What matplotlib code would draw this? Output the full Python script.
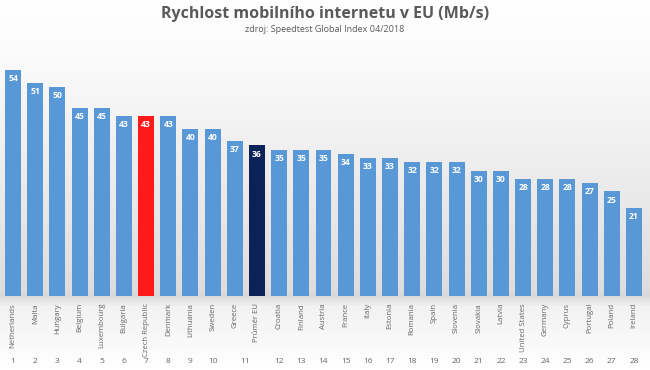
import numpy as np
import matplotlib
matplotlib.use("Agg")
import matplotlib.pyplot as plt
from matplotlib.colors import LinearSegmentedColormap

countries = ["Netherlands", "Malta", "Hungary", "Belgium", "Luxembourg", "Bulgaria",
             "Czech Republic", "Denmark", "Lithuania", "Sweden", "Greece", "Průměr EU",
             "Croatia", "Finland", "Austria", "France", "Italy", "Estonia", "Romania",
             "Spain", "Slovenia", "Slovakia", "Latvia", "United States", "Germany",
             "Cyprus", "Portugal", "Poland", "Ireland"]
speeds = [54, 51, 50, 45, 45, 43, 43, 43, 40, 40, 37, 36, 35, 35, 35, 34, 33, 33, 32,
          32, 32, 30, 30, 28, 28, 28, 27, 25, 21]
ranks = ["1", "2", "3", "4", "5", "6", "7", "8", "9", "10", "11", "", "12", "13", "14",
         "15", "16", "17", "18", "19", "20", "21", "22", "23", "24", "25", "26", "27", "28"]

plt.rcParams['font.family'] = ['Open Sans', 'DejaVu Sans']

fig = plt.figure(figsize=(6.5, 3.7), dpi=100)

# background gradient
bg = fig.add_axes([0, 0, 1, 1], zorder=-10)
bg.axis("off")
cmap = LinearSegmentedColormap.from_list(
    "bg", [(0, "#ffffff"), (0.15, "#fbfbfb"), (0.78, "#dedede"), (0.80, "#d8d8d8"),
           (0.83, "#f2f2f2"), (1.0, "#ffffff")])
grad = np.linspace(0, 1, 370).reshape(-1, 1)
bg.imshow(grad, aspect="auto", cmap=cmap, extent=[0, 1, 0, 1], origin="upper")
bg.set_xlim(0, 1)
bg.set_ylim(0, 1)

ax = fig.add_axes([2 / 650, 1 - 296 / 370, 643 / 650, 251 / 370])
ax.patch.set_alpha(0)
x = np.arange(len(speeds))
colors = []
for c in countries:
    if c == "Czech Republic":
        colors.append("#ff1a1a")
    elif c == "Průměr EU":
        colors.append("#0b2258")
    else:
        colors.append("#5898d6")
ax.bar(x, speeds, width=0.72, color=colors, edgecolor="none", zorder=2)
ax.set_xlim(-0.5, len(speeds) - 0.5)
ax.set_ylim(0, 60)
ax.axis("off")

for xi, v in zip(x, speeds):
    ax.annotate(str(v), (xi, v), xytext=(0, -3), textcoords="offset points",
                ha="center", va="top", color="white", fontsize=6.2, fontweight="bold",
                zorder=3)

for xi, c in zip(x, countries):
    ax.annotate(c, (xi, 0), xytext=(0, -5), textcoords="offset points",
                ha="center", va="top", rotation=90, color="#666666", fontsize=5.6,
                annotation_clip=False)

for xi, r in zip(x, ranks):
    if not r:
        continue
    off = 0.45 if r == "11" else 0.0
    ax.annotate(r, (xi + off, 0), xytext=(0, -47), textcoords="offset points",
                ha="center", va="center", color="#666666", fontsize=6,
                annotation_clip=False)

fig.text(0.5, 1 - 14 / 370, "Rychlost mobilního internetu v EU (Mb/s)", ha="center",
         va="center", fontsize=11.5, fontweight="bold", color="#595959")
fig.text(0.5, 1 - 29 / 370, "zdroj: Speedtest Global Index 04/2018", ha="center",
         va="center", fontsize=6.5, color="#595959")

fig.savefig("out.png", dpi=100)
